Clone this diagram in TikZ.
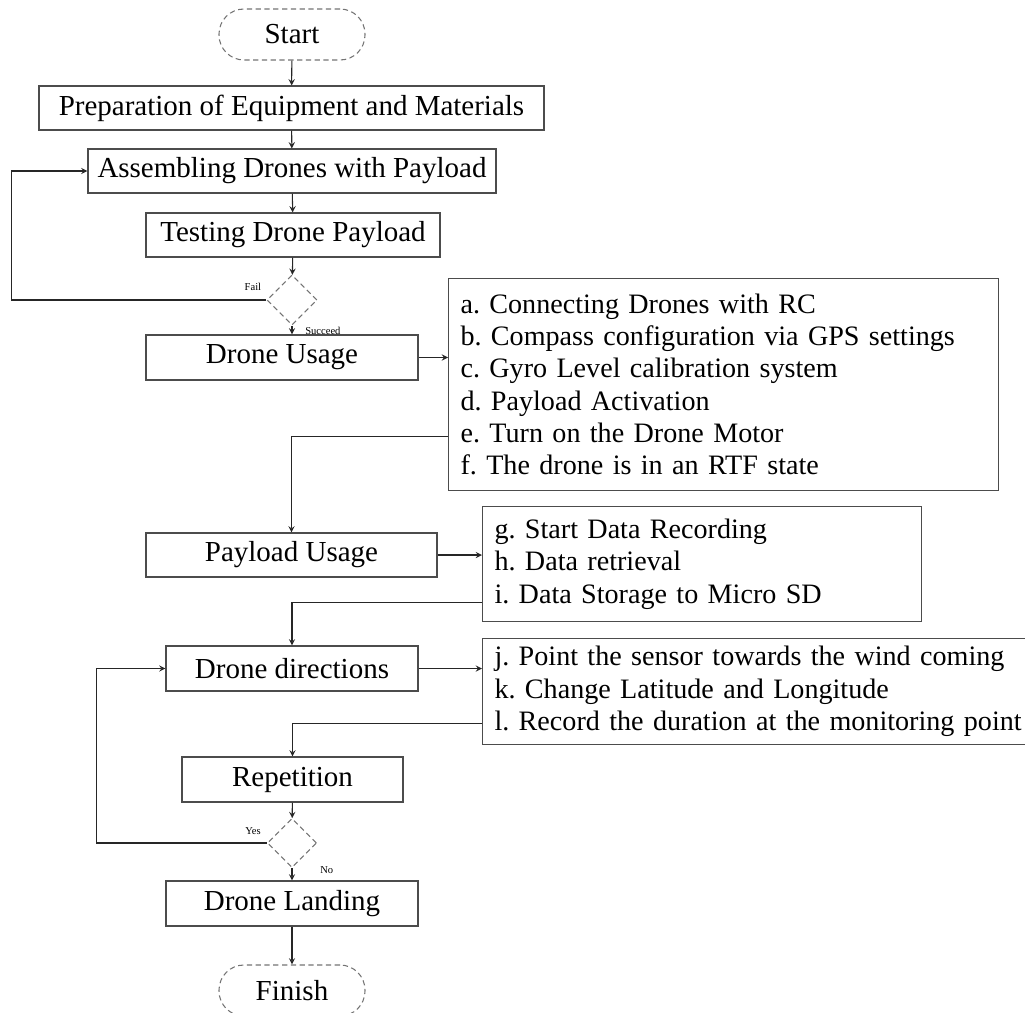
\documentclass[tikz,border=0pt]{standalone}
\usepackage{fontspec}
\setmainfont{Liberation Serif}
\usetikzlibrary{shapes.geometric}
\frenchspacing

\begin{document}
\begin{tikzpicture}[
 every node/.style={font=\fontsize{16.5}{18.4}\selectfont},
 box/.style={draw=black!70, line width=0.6pt, minimum height=0.88cm, inner sep=0pt},
 term/.style={draw=black!55, densely dashed, line width=0.6pt, rounded corners=0.5cm, minimum width=2.92cm, minimum height=1.02cm},
 decide/.style={diamond, draw=black!55, densely dashed, line width=0.6pt, minimum size=1cm, inner sep=0pt},
 listbox/.style={draw=black!70, line width=0.6pt, anchor=north west, align=left, inner xsep=0.24cm, inner ysep=0pt, font=\fontsize{16}{18.4}\selectfont},
 tag/.style={font=\fontsize{6}{7}\selectfont, inner sep=0pt},
 line/.style={line width=0.6pt, black!85, ->, >=stealth}
]
 \useasboundingbox (0,0) rectangle (20.5,-20.24); %picture frame
 % main column
 \node[term] (start) at (5.84,-0.69) {Start}; %start
 \node[box, minimum width=10.1cm] (prep) at (5.83,-2.16) {Preparation of Equipment and Materials};
 \node[box, minimum width=8.16cm] (assem) at (5.84,-3.42) {Assembling Drones with Payload};
 \node[box, minimum width=5.88cm] (test) at (5.86,-4.70) {Testing Drone Payload};
 \node[decide] (check) at (5.84,-6.0) {}; %fail / succeed
 \node[box, minimum width=5.44cm, minimum height=0.9cm] (usage) at (5.64,-7.15) {Drone Usage};
 \node[box, minimum width=5.82cm] (payload) at (5.83,-11.10) {Payload Usage};
 \node[box, minimum width=5.04cm, minimum height=0.9cm] (direct) at (5.84,-13.37) {Drone directions};
 \node[box, minimum width=4.42cm, minimum height=0.9cm] (repeat) at (5.85,-15.59) {Repetition};
 \node[decide, minimum size=0.98cm] (again) at (5.84,-16.86) {}; %yes / no
 \node[box, minimum width=5.04cm, minimum height=0.9cm] (land) at (5.84,-18.07) {Drone Landing};
 \node[term] (finish) at (5.84,-19.81) {Finish}; %finish
 % step lists
 \node[listbox, minimum width=11.0cm, minimum height=4.24cm, text width=10.52cm] (steps) at (8.96,-5.56)
  {a. Connecting Drones with RC\\
   b. Compass configuration via GPS settings\\
   c. Gyro Level calibration system\\
   d. Payload Activation\\
   e. Turn on the Drone Motor\\
   f. The drone is in an RTF state};
 \node[listbox, minimum width=8.78cm, minimum height=2.3cm, text width=8.3cm] (data) at (9.64,-10.12)
  {g. Start Data Recording\\
   h. Data retrieval\\
   i. Data Storage to Micro SD};
 \node[listbox, minimum width=12cm, minimum height=2.12cm, text width=11.52cm] (point) at (9.64,-12.76)
  {j. Point the sensor towards the wind coming\\
   k. Change Latitude and Longitude\\
   l. Record the duration at the monitoring point};
 % arrows
 \draw[line] (start) -- (prep);
 \draw[line] (prep) -- (assem);
 \draw[line] (assem) -- (test);
 \draw[line] (test) -- (check);
 \draw[line] (check.south) -- (check.south |- usage.north);
 \draw[line] (check.west) -- ++(-5.1,0) |- (assem.west); %fail loop
 \draw[line] (usage.east) -- (usage.east -| steps.west);
 \draw[line] ([yshift=-1.04cm]steps.west) -| (payload.north);
 \draw[line] (payload.east) -- (payload.east -| data.west);
 \draw[line] ([yshift=-0.77cm]data.west) -| (direct.north);
 \draw[line] (direct.east) -- (direct.east -| point.west);
 \draw[line] ([yshift=-0.64cm]point.west) -| (repeat.north);
 \draw[line] (repeat) -- (again);
 \draw[line] (again) -- (land);
 \draw[line] (again.west) -- ++(-3.41,0) |- (direct.west); %yes loop
 \draw[line] (land) -- (finish);
 % branch labels
 \node[tag, anchor=south east] (fail) at ([shift={(-0.1,0.18)}]check.west) {Fail};
 \node[tag, anchor=west] (ok) at ([shift={(0.26,-0.1)}]check.south) {Succeed};
 \node[tag, anchor=east] (yes) at ([shift={(-0.12,0.24)}]again.west) {Yes};
 \node[tag, anchor=west] (no) at ([shift={(0.56,-0.05)}]again.south) {No};
\end{tikzpicture}
\end{document}
